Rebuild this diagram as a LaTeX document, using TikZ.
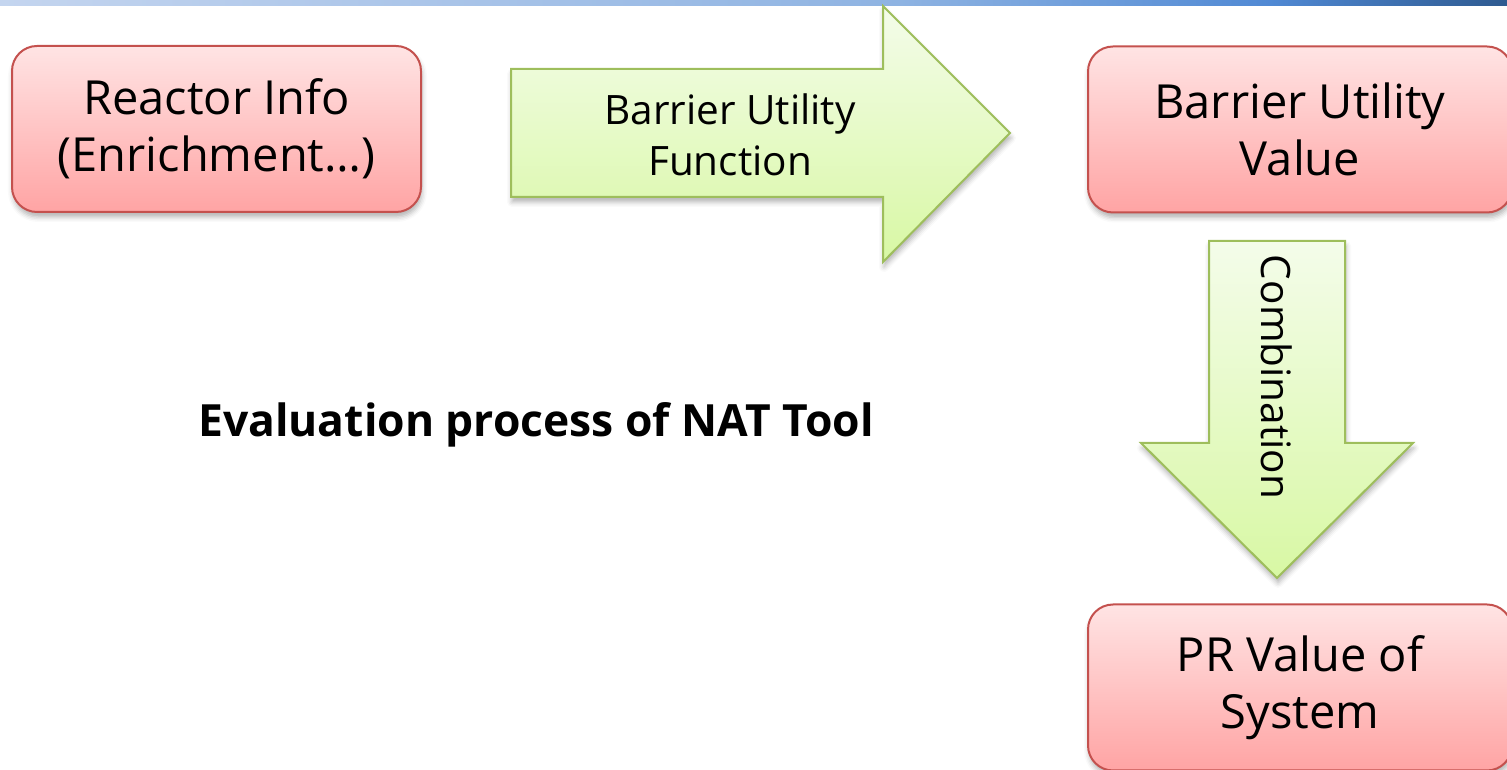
\documentclass[tikz,border=0pt]{standalone}
\usepackage{fontspec}
\setmainfont{Open Sans}
\usetikzlibrary{positioning,shadows.blur}
\definecolor{BarLeft}{HTML}{C4D5EF}
\definecolor{BarMid}{HTML}{8EB3E2}
\definecolor{BarDeep}{HTML}{5089D4}
\definecolor{BarRight}{HTML}{2E5A90}
\definecolor{BoxTop}{HTML}{FFE4E4}
\definecolor{BoxBottom}{HTML}{FFA4A4}
\definecolor{BoxLine}{HTML}{C4514E}
\definecolor{ArrowTop}{HTML}{F4FCEA}
\definecolor{ArrowBottom}{HTML}{D8F8A4}
\definecolor{ArrowLine}{HTML}{9EBE5C}
\tikzset{
  softshadow/.style={blur shadow={shadow xshift=1pt,shadow yshift=-5pt,shadow blur radius=5pt,shadow opacity=30}},
  valuebox/.style={draw=BoxLine,line width=2pt,rounded corners=25pt,top color=BoxTop,bottom color=BoxBottom,
    minimum width=424pt,minimum height=166pt,align=center,font=\fontsize{47}{57}\selectfont,softshadow},
  blockarrow/.style={draw=ArrowLine,line width=2pt,top color=ArrowTop,bottom color=ArrowBottom,softshadow},
  arrowlabel/.style={align=center,font=\fontsize{40.5}{51}\selectfont},
  caption/.style={font=\fontsize{44.4}{50}\selectfont\bfseries}
}
\begin{document}
\begin{tikzpicture}[x=1pt,y=1pt]
  \useasboundingbox (0,0) rectangle (1507,770);

  % title bar along the top edge
  \shade[left color=BarLeft,right color=BarMid] (0,764) rectangle (900,770);
  \shade[left color=BarMid,right color=BarDeep] (900,764) rectangle (1270,770);
  \shade[left color=BarDeep,right color=BarRight] (1270,764) rectangle (1507,770);

  % value boxes
  \node[valuebox,minimum width=409pt] (reactor) at (216.5,641) {Reactor Info\\(Enrichment…)};
  \node[valuebox] (utilval) at (1300,640.5) {Barrier Utility\\Value};
  \node[valuebox,below=390pt of utilval] (prval) {PR Value of\\System};

  % block arrows
  \draw[blockarrow] (511,701) -- (883,701) -- (883,764) -- (1010,637) -- (883,508) -- (883,573) -- (511,573) -- cycle;
  \draw[blockarrow] (1209,529) -- (1345,529) -- (1345,327) -- (1413,327) -- (1277,192) -- (1141,327) -- (1209,327) -- cycle;
  \node[arrowlabel] (funclabel) at (730,635) {Barrier Utility\\Function};
  \node[arrowlabel,rotate=-90] (comblabel) at (1277,393) {Combination};

  \node[caption] (title) at (536,345) {Evaluation process of NAT Tool};
\end{tikzpicture}
\end{document}
